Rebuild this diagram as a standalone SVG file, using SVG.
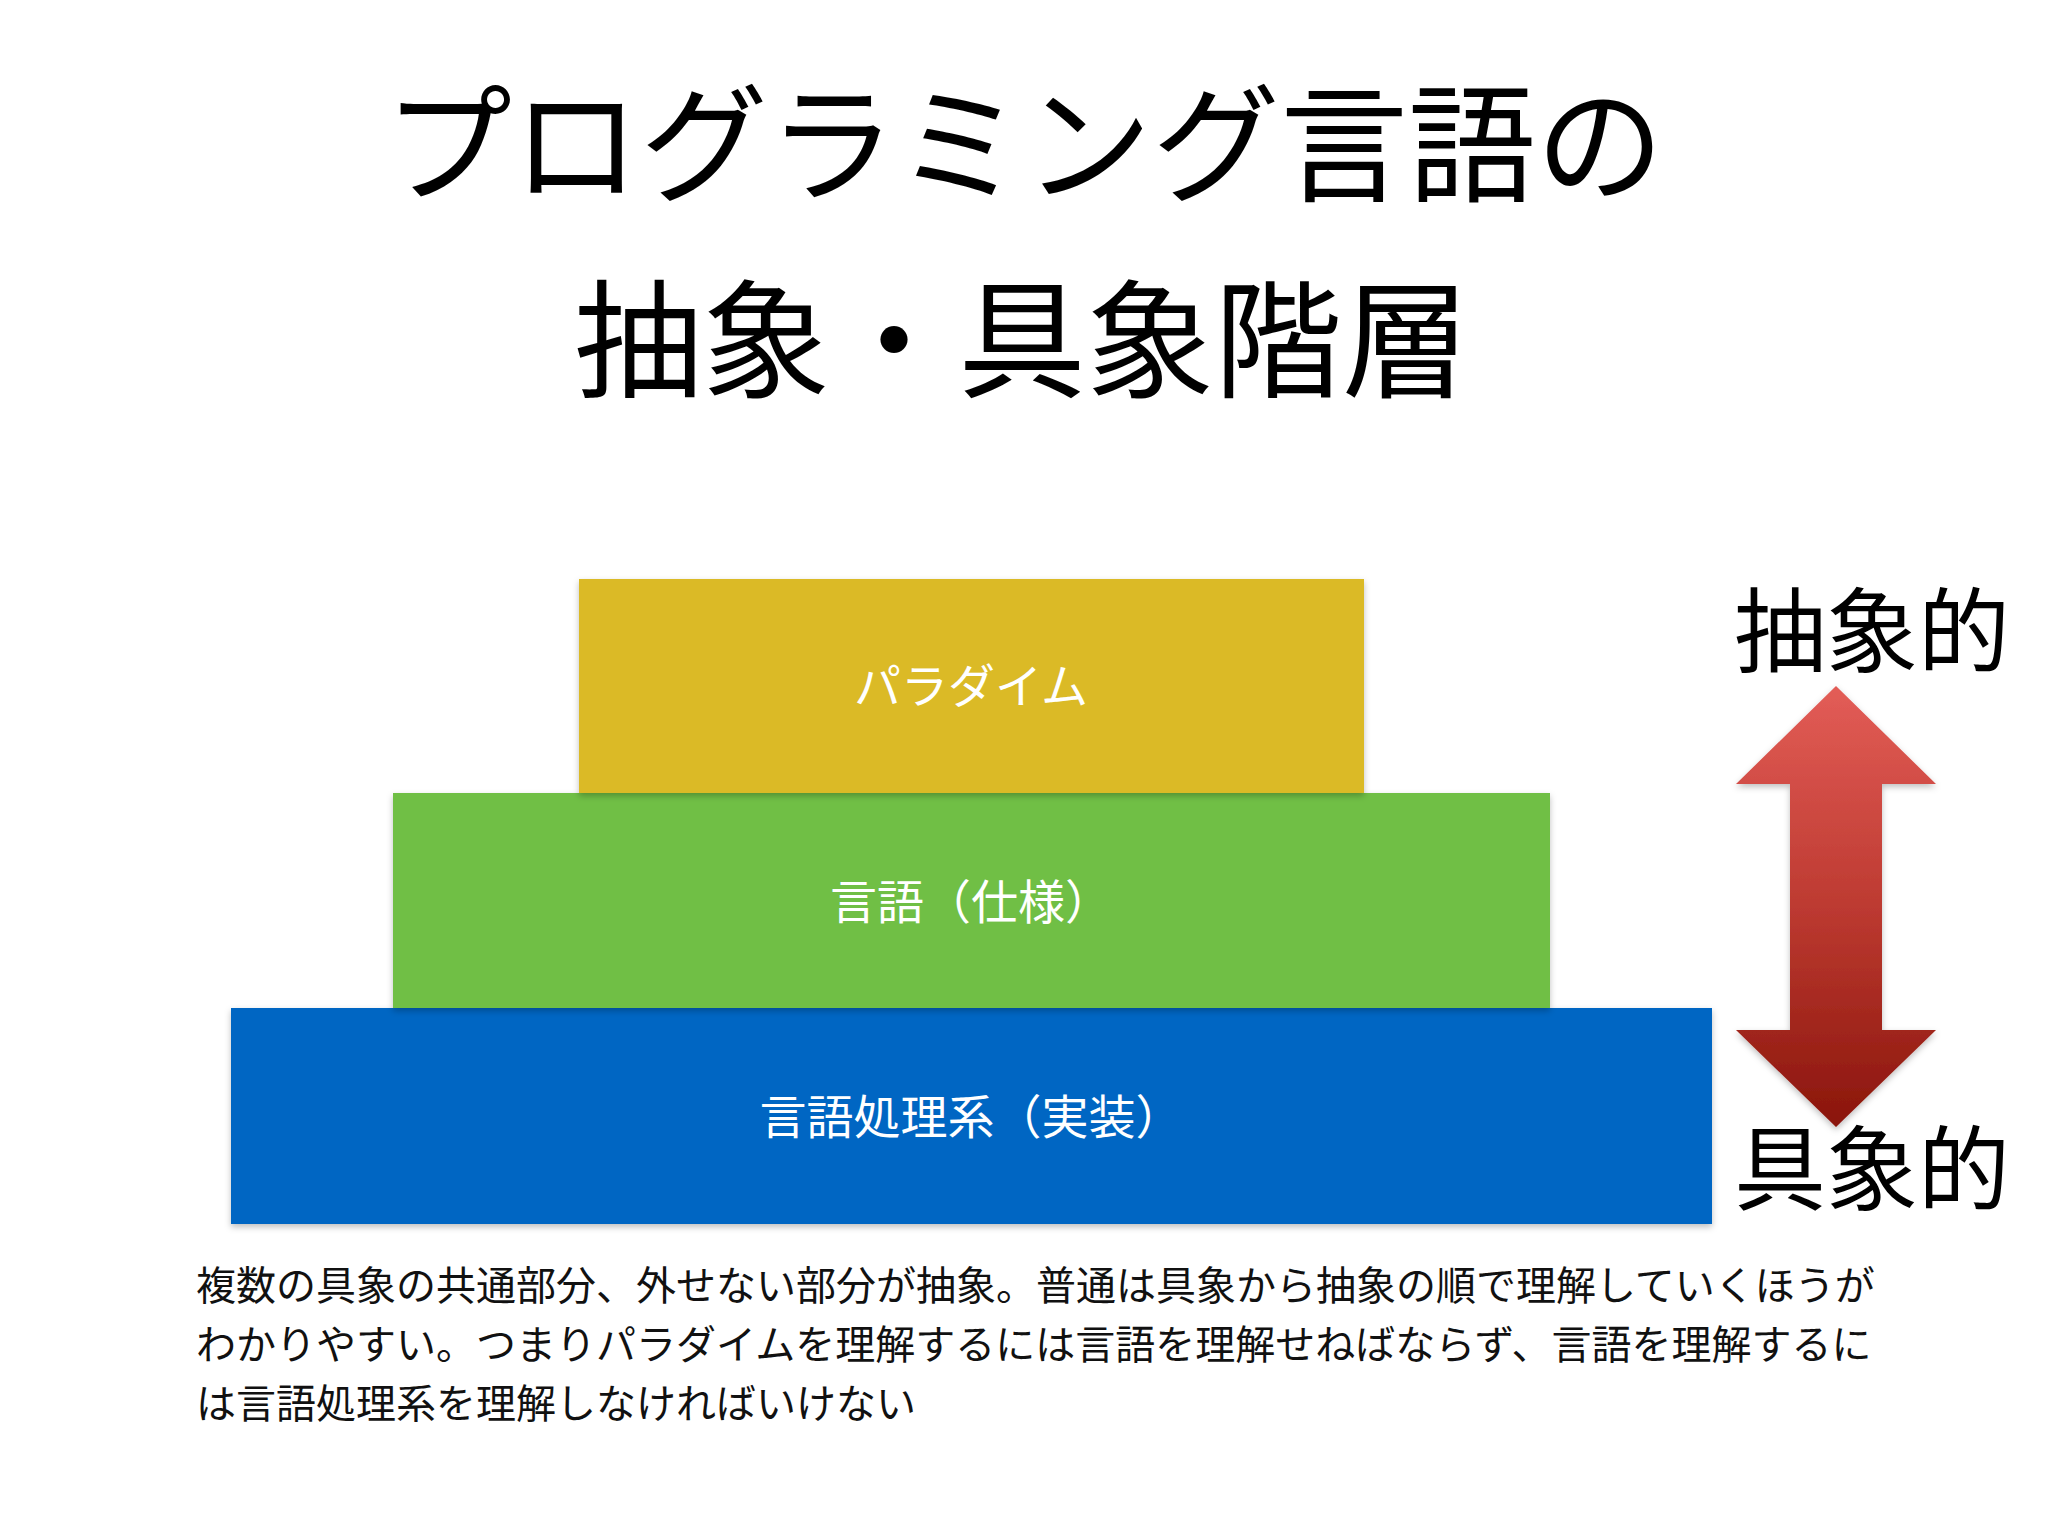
<svg xmlns="http://www.w3.org/2000/svg" width="2048" height="1536" viewBox="0 0 2048 1536">
<style>
text{font-family:"Noto Sans CJK JP","Noto Sans CJK SC",sans-serif;}
.title{font-size:128px;fill:#000;text-anchor:middle;}
.side{font-size:92px;fill:#000;text-anchor:middle;}
.lbl{font-size:47px;fill:#fff;text-anchor:middle;}
.para{font-size:40px;fill:#111;}
</style>
<defs>
<linearGradient id="ag" x1="0" y1="0" x2="0" y2="1">
<stop offset="0" stop-color="#e35d57"/>
<stop offset="0.5" stop-color="#bd3a31"/>
<stop offset="1" stop-color="#8a150b"/>
</linearGradient>
<filter id="sh" x="-5%" y="-5%" width="110%" height="115%">
<feDropShadow dx="0" dy="3" stdDeviation="3" flood-color="#000" flood-opacity="0.25"/>
</filter>
</defs>
<rect width="2048" height="1536" fill="#fff"/>
<g id="title">
<text class="title" x="1024" y="192">プログラミング言語の</text>
<text class="title" x="1022" y="388">抽象・具象階層</text>
</g>
<g id="layer-implementation">
<rect x="231" y="1008" width="1481" height="216" fill="#0566c3" filter="url(#sh)"/>
<text class="lbl" x="971" y="1134">言語処理系（実装）</text>
</g>
<g id="layer-language">
<rect x="393" y="793" width="1157" height="215" fill="#70bf44" filter="url(#sh)"/>
<text class="lbl" x="971" y="919">言語（仕様）</text>
</g>
<g id="layer-paradigm">
<rect x="579" y="579" width="785" height="214" fill="#dbba26" filter="url(#sh)"/>
<text class="lbl" x="971" y="703">パラダイム</text>
</g>
<g id="connectors">
<path d="M1836,686 L1936,784 L1882,784 L1882,1030 L1936,1030 L1836,1127 L1736,1030 L1790,1030 L1790,784 L1736,784 Z" fill="url(#ag)" filter="url(#sh)"/>
</g>
<g id="label-abstract">
<text class="side" x="1872" y="665">抽象的</text>
</g>
<g id="label-concrete">
<text class="side" x="1872" y="1203">具象的</text>
</g>
<g id="note">
<text class="para" x="196" y="1300">複数の具象の共通部分、外せない部分が抽象。普通は具象から抽象の順で理解していくほうが</text>
<text class="para" x="196" y="1359">わかりやすい。つまりパラダイムを理解するには言語を理解せねばならず、言語を理解するに</text>
<text class="para" x="196" y="1418">は言語処理系を理解しなければいけない</text>
</g>
</svg>
